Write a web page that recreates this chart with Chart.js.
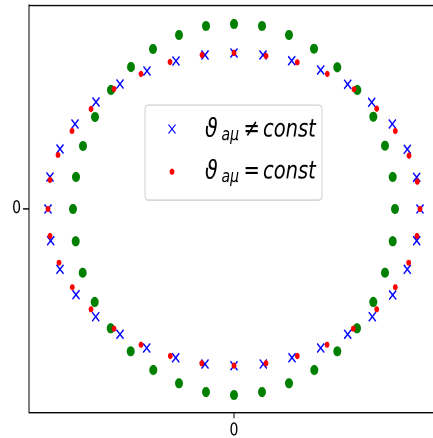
<!DOCTYPE html>
<html>
<head>
<meta charset="utf-8">
<script src="https://cdn.jsdelivr.net/npm/chart.js@4.4.1/dist/chart.umd.min.js"></script>
<style>
  html, body { margin: 0; padding: 0; background: #fff; overflow: hidden; }
  #wrap { width: 433px; height: 438px; overflow: hidden; position: relative; }
  #stretch { position: absolute; left: 0; top: 0; transform: scale(1, 1.27); transform-origin: 0 0; }
</style>
</head>
<body>
<div id="wrap"><div id="stretch"><canvas id="c" width="445" height="345"></canvas></div></div>
<script>
// ---- data ----
const greenX = [161, 158.7, 151, 139.3, 123.3, 103.3, 80, 55, 28, 0, -28, -55, -81, -103, -123, -139, -151, -158,
                -161, -158.3, -151.3, -139.3, -123.3, -103.3, -80.7, -55, -28, 0, 28, 55, 80.3, 103.3, 123, 139.3, 151, 158.7];
const greenY = [0, 32, 63.3, 92.3, 119, 141.7, 160.3, 174, 183, 185, 183, 174, 160, 142, 119, 92, 63, 32,
                0, -32.3, -63.7, -93, -119.3, -142.3, -161, -174.3, -183, -186, -183, -174.3, -161, -142.3, -119.3, -93, -63.7, -32.3];
const blueX  = [186, 182.7, 173.3, 158.3, 137.7, 113.7, 86.7, 57.7, 29, 0, -29, -58, -87, -114, -138, -159, -174, -184,
                -186, -183.3, -174, -158, -138.3, -114, -87.3, -58.3, -29, 0, 29.3, 58, 86.7, 113.7, 138.3, 158.7, 173.3, 182.7];
const blueY  = [0, 31.7, 59.7, 85, 106.7, 124.7, 139, 148.3, 154, 156, 154, 148, 138, 125, 107, 85, 60, 32,
                0, -31.7, -60.3, -85.7, -107.7, -125.3, -139, -148.7, -155, -156.7, -155, -148.7, -139, -125.3, -107.7, -86, -60.3, -31.7];
const redX   = [186, 183.3, 175, 161.3, 142.7, 120, 93.3, 63.3, 32, 0, -32, -64, -93, -120, -143, -162, -176, -184,
                -186, -184, -175, -161.7, -143, -120, -93, -63.7, -32.3, 0, 32, 63.3, 93, 119.3, 142.7, 161.3, 174.7, 183];
const redY   = [0, 27.3, 53.3, 78, 100.3, 119.7, 135, 146.7, 153, 156, 154, 147, 135, 120, 100, 78, 54, 29,
                0, -27, -53.7, -78.3, -100.3, -119.7, -135.7, -147, -154.3, -156.7, -154.3, -147, -135.7, -119.7, -100.3, -78.3, -53.7, -27];
const xTicks = [0];
const yTicks = [0];
const legendSymbol = 'ϑ';
const legendSub = 'aμ';
const legendOps = ['≠', '='];
const legendRest = 'const';

function pts(xs, ys) { return xs.map((x, i) => ({ x: x, y: ys[i] })); }

const FONT = '"DejaVu Sans", sans-serif';

const framePlugin = {
  id: 'frame',
  afterDatasetsDraw(chart) {
    const { ctx, chartArea: a } = chart;
    ctx.save();
    ctx.strokeStyle = '#000';
    ctx.lineWidth = 1;
    ctx.beginPath();
    ctx.moveTo(a.left, a.top + 0.5);
    ctx.lineTo(a.right, a.top + 0.5);
    ctx.moveTo(a.right - 0.5, a.top);
    ctx.lineTo(a.right - 0.5, a.bottom);
    ctx.stroke();
    ctx.restore();
  }
};

const legendPlugin = {
  id: 'mathLegend',
  afterDraw(chart) {
    const ctx = chart.ctx;
    const bx = 145, by = 82.7, bw = 177, bh = 74.8, r = 3.5;
    ctx.save();
    ctx.beginPath();
    ctx.moveTo(bx + r, by);
    ctx.lineTo(bx + bw - r, by);
    ctx.quadraticCurveTo(bx + bw, by, bx + bw, by + r);
    ctx.lineTo(bx + bw, by + bh - r);
    ctx.quadraticCurveTo(bx + bw, by + bh, bx + bw - r, by + bh);
    ctx.lineTo(bx + r, by + bh);
    ctx.quadraticCurveTo(bx, by + bh, bx, by + bh - r);
    ctx.lineTo(bx, by + r);
    ctx.quadraticCurveTo(bx, by, bx + r, by);
    ctx.closePath();
    ctx.fillStyle = 'rgba(255,255,255,0.8)';
    ctx.fill();
    ctx.strokeStyle = '#d0d0d0';
    ctx.lineWidth = 1;
    ctx.stroke();

    const ds = chart.data.datasets;
    const rows = [
      { d: ds[1], y: 101.6, base: 107.6, op: legendOps[0] },
      { d: ds[2], y: 135.2, base: 140.4, op: legendOps[1] }
    ];
    rows.forEach(row => {
      ctx.save();
      ctx.strokeStyle = row.d.borderColor;
      ctx.fillStyle = row.d.backgroundColor;
      Chart.helpers.drawPoint(ctx, {
        pointStyle: row.d.pointStyle, radius: row.d.pointRadius,
        borderWidth: row.d.borderWidth, rotation: 0
      }, 172, row.y);
      ctx.restore();

      ctx.fillStyle = '#000';
      ctx.textBaseline = 'alphabetic';
      ctx.textAlign = 'left';
      ctx.font = 'italic 20.5px ' + FONT;
      ctx.fillText(legendSymbol, 205, row.base);
      ctx.font = 'italic 14px ' + FONT;
      ctx.fillText(legendSub, 221.5, row.base + 3);
      ctx.font = '19.5px ' + FONT;
      ctx.fillText(row.op, 243.5, row.base);
      ctx.font = 'italic 19.5px ' + FONT;
      ctx.fillText(legendRest, 263, row.base);
    });
    ctx.restore();
  }
};

new Chart(document.getElementById('c'), {
  type: 'scatter',
  data: {
    datasets: [
      { label: 'green', data: pts(greenX, greenY), pointStyle: 'circle', pointRadius: 4,
        backgroundColor: '#008000', borderColor: '#008000', borderWidth: 0, order: 2 },
      { label: 'ϑaμ ≠ const', data: pts(blueX, blueY), pointStyle: 'crossRot', pointRadius: 5,
        backgroundColor: '#0000ff', borderColor: '#0000ff', borderWidth: 1.3, order: 1 },
      { label: 'ϑaμ = const', data: pts(redX, redY), pointStyle: 'circle', pointRadius: 2.4,
        backgroundColor: '#ff0000', borderColor: '#ff0000', borderWidth: 0, order: 0 }
    ]
  },
  options: {
    responsive: false,
    animation: false,
    devicePixelRatio: 2,
    events: [],
    layout: { autoPadding: false, padding: { top: 3.9, right: 6, left: 0, bottom: 0 } },
    plugins: { legend: { display: false }, tooltip: { enabled: false } },
    scales: {
      x: {
        type: 'linear', min: -205, max: 205,
        afterBuildTicks(axis) { axis.ticks = xTicks.map(v => ({ value: v })); },
        afterFit(scale) { scale.height = 19.8; scale.paddingLeft = 0; scale.paddingRight = 0; scale.paddingTop = 0; scale.paddingBottom = 0; },
        ticks: { font: { family: 'DejaVu Sans', size: 14 }, color: '#000', padding: 2, maxRotation: 0 },
        grid: { display: true, drawOnChartArea: false, drawTicks: true, tickLength: 4, color: '#000', lineWidth: 1 },
        border: { display: true, color: '#000', width: 1 }
      },
      y: {
        type: 'linear', min: -204, max: 204,
        afterBuildTicks(axis) { axis.ticks = yTicks.map(v => ({ value: v })); },
        afterFit(scale) { scale.width = 29; scale.paddingLeft = 0; scale.paddingRight = 0; scale.paddingTop = 0; scale.paddingBottom = 0; },
        ticks: { font: { family: 'DejaVu Sans', size: 14 }, color: '#000', padding: 2 },
        grid: { display: true, drawOnChartArea: false, drawTicks: true, tickLength: 6, color: '#000', lineWidth: 1 },
        border: { display: true, color: '#000', width: 1 }
      }
    }
  },
  plugins: [framePlugin, legendPlugin]
});
</script>
</body>
</html>
